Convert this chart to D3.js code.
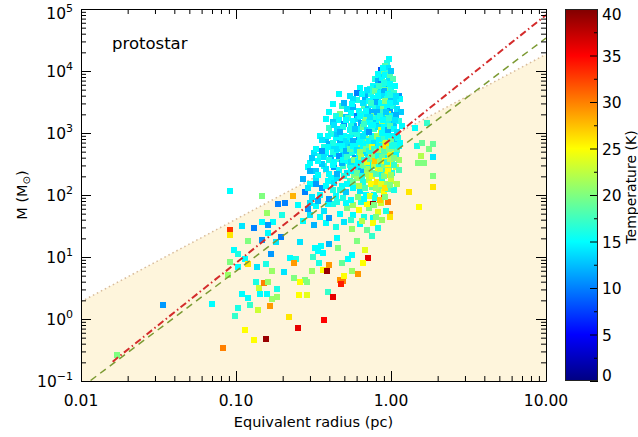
<!DOCTYPE html>
<html>
<head>
<meta charset="utf-8">
<script src="https://cdn.jsdelivr.net/npm/d3@7"></script>
<style>
body { margin:0; background:#fff; }
svg { color:#000; }
text { font-family:"DejaVu Sans", sans-serif; fill:#000; }
</style>
</head>
<body>
<div id="chart"></div>
<script>

// axis ranges and tick labels
var radiusDomain = [0.01, 10];
var massDomain = [0.1, 1e5];
var tempDomain = [0, 40];
var xMajor = [0.01, 0.1, 1, 10];
var xTickLabels = ["0.01", "0.10", "1.00", "10.00"];
var yMajor = [0.1, 1, 10, 100, 1e3, 1e4, 1e5];
var yExponents = ["\u22121", "0", "1", "2", "3", "4", "5"];
var tempTicks = [0, 5, 10, 15, 20, 25, 30, 35, 40];
var tempMinor = [2.5, 7.5, 12.5, 17.5, 22.5, 27.5, 32.5, 37.5];

// colour table (jet) : temperature -> colour
var jetStops = [0, 5, 15, 25, 35, 40];
var jetColors = ["#000080", "#0000ff", "#00ffff", "#ffff00", "#ff0000", "#800000"];

// reference lines, [radius pc, mass Msun] end points
var dottedLine = [[0.01, 1.9], [10, 18600]];
var redLine = [[0.016, 0.205], [10, 80000]];
var greenLine = [[0.01, 0.078], [10, 34000]];

// clumps: [radius (pc), mass (Msun), temperature (K)]
var clumpsSparseLeft = [
  [0.017,0.26,20],[0.034,1.7,11],[0.07,1.75,15],[0.082,0.34,30],
  [0.092,117,15],[0.11,32,14],[0.13,29,10],[0.092,27,33],[0.092,23,26],[0.12,18,20],[0.097,13,15],
  [0.103,11,16],[0.114,9.3,15],[0.092,8.4,20],[0.103,7,15],[0.119,7.8,26],[0.089,5.2,21],
  [0.11,2.5,15],[0.12,2.2,15],[0.103,1.5,16],[0.123,1.7,17],[0.099,1.1,17],[0.114,0.67,25],[0.13,0.46,25],
  [0.147,97,20],[0.233,97,28],[0.187,72,10],[0.207,75,10],[0.158,52,21],[0.198,48,16],[0.173,37,15],
  [0.147,37,15],[0.16,33,11],[0.16,24,15],[0.147,19,11],[0.181,17.6,14],[0.196,21,10],[0.259,17.6,14],
  [0.168,11.3,11],[0.223,9.7,15],[0.244,9.3,16],[0.236,8,29],[0.137,7,14],[0.155,7.8,16],[0.171,6,21],
  [0.204,5.8,14],[0.236,4.6,20],[0.279,4.3,20],[0.288,3.9,20],[0.259,4,25],[0.135,4,16],[0.141,3.2,23],
  [0.152,3.8,30],[0.16,4,21],[0.184,3.1,16],[0.184,2.3,21],[0.171,2.1,21],[0.158,2.5,15],[0.143,2.5,15],
  [0.255,2.4,25],[0.287,2.4,24],[0.139,1.4,23],[0.166,1.6,29],[0.22,1.08,26],[0.251,0.72,36],[0.155,0.48,39]
];

var clumpsSparseMid = [
  [0.309,6,21],[0.364,6.2,25],[0.386,6,39],[0.398,7.5,29],[0.343,8,16],[0.314,10,17],[0.364,11.7,15],
  [0.338,12.6,15],[0.323,14,15],[0.354,15,15],[0.455,14,20],[0.528,9.3,15],[0.56,10.9,15],[0.483,8,19],
  [0.711,9.7,36],[0.659,8,25],[0.612,5.4,29],[0.469,4.3,29],[0.49,4.1,30],[0.476,3.7,34],[0.498,5,25],
  [0.56,6,21],[0.392,2.7,17],[0.422,2.3,36],[0.37,0.97,35]
];

var clumpsSparseRight = [
  [1.87,136,26],[1.31,113,26],[1.52,65,25],[0.98,50,29],[0.95,78,30],[0.9,100,33],[0.766,72,39],
  [1.71,1470,17],[1.43,1220,15],[1.47,625,16],[1.58,700,19],[1.76,560,20],[1.87,670,19],[1.56,430,22],
  [1.49,330,20],[1.63,330,20],[1.87,415,14],[1.87,205,20]
];

var clumpsBase = [
  [0.25,70,15],[0.29,60,11],[0.33,66,15],[0.37,55,14],[0.42,71,16],[0.47,50,15],[0.52,62,20],[0.57,48,15],
  [0.62,58,25],[0.67,45,16],[0.72,62,20],[0.77,42,15],[0.82,53,24],[0.87,40,21],[0.93,56,16],[0.98,44,26],
  [0.27,38,15],[0.32,33,12],[0.38,36,15],[0.44,30,16],[0.50,37,14],[0.56,28,21],[0.63,34,15],[0.70,27,19],
  [0.76,35,25],[0.83,29,16],[0.45,20,15],[0.60,18,20],[0.75,22,17],[0.40,16,12],[0.68,13,24],
  [0.30,75,14],[0.34,80,12],[0.39,72,15],[0.45,78,16],[0.51,75,15],[0.57,70,21],[0.64,76,16],[0.70,72,25],
  [0.78,70,20],[0.86,74,23],[0.35,45,15],[0.40,42,11],[0.55,40,17],[0.65,38,22],[0.80,45,20],[0.30,48,14]
];

var clumpsLow = [
  [0.29,280,15],[0.33,240,13],[0.37,290,16],[0.40,220,15],[0.43,280,11],[0.46,250,15],[0.49,290,17],
  [0.52,230,14],[0.55,280,15],[0.58,210,20],[0.61,270,15],[0.64,240,12],[0.67,290,16],[0.70,220,22],
  [0.73,270,15],[0.76,230,19],[0.79,290,16],[0.82,250,25],[0.85,220,15],[0.88,280,21],[0.91,240,17],
  [0.94,210,26],[0.97,270,20],[1.02,230,16],[1.07,280,23],[1.12,250,18],
  [0.27,180,12],[0.30,150,15],[0.33,190,14],[0.36,130,11],[0.39,170,15],[0.42,120,16],[0.45,185,14],
  [0.48,140,15],[0.51,110,13],[0.54,170,17],[0.57,130,15],[0.60,190,21],[0.63,115,14],[0.66,160,16],
  [0.69,100,15],[0.72,175,22],[0.75,135,19],[0.78,100,15],[0.81,165,26],[0.84,120,20],[0.87,180,16],
  [0.90,110,25],[0.93,150,21],[0.96,125,18],[1.00,170,23],[1.05,120,16],[1.10,150,22],
  [0.28,110,10],[0.31,92,14],[0.35,100,15],[0.40,86,11],[0.44,98,15],[0.49,90,16],[0.55,84,15],
  [0.61,94,20],[0.67,86,15],[0.73,95,24],[0.79,88,16],[0.85,84,27],[0.91,92,20],
  [0.30,240,12],[0.34,210,15],[0.38,260,14],[0.41,190,15],[0.45,220,12],[0.50,200,16],[0.55,240,15],
  [0.60,230,19],[0.65,200,16],[0.70,260,21],[0.75,200,24],[0.80,220,18],[0.85,260,22],[0.90,200,20],
  [0.95,240,25],[1.00,210,21],
  [0.29,130,14],[0.33,150,11],[0.38,140,15],[0.43,155,14],[0.47,120,16],[0.52,150,15],[0.57,160,19],
  [0.62,140,22],[0.68,130,18],[0.74,150,25],[0.80,130,21],[0.86,150,24],[0.92,130,26],[0.98,145,20]
];

var clumpsMid = [
  [0.35,900,15],[0.38,760,13],[0.41,950,16],[0.44,820,15],[0.47,700,12],[0.50,900,15],[0.53,780,17],
  [0.56,950,14],[0.59,680,15],[0.62,850,11],[0.65,720,16],[0.68,950,15],[0.71,800,20],[0.74,660,14],
  [0.77,900,15],[0.80,750,18],[0.83,620,15],[0.86,880,16],[0.89,720,22],[0.92,950,15],[0.95,800,14],
  [0.98,650,19],[1.02,880,15],[1.06,720,13],[1.11,820,16],[1.15,680,15],
  [0.37,600,16],[0.40,660,12],[0.43,560,14],[0.46,620,15],[0.49,540,16],[0.52,650,14],[0.55,600,13],
  [0.58,520,15],[0.61,640,15],[0.64,580,20],[0.67,540,14],[0.70,660,15],[0.73,600,17],[0.76,520,15],
  [0.79,640,12],[0.82,580,25],[0.85,530,15],[0.88,650,16],[0.91,600,19],[0.94,540,16],[0.97,640,14],
  [1.00,520,24],[1.04,580,20],[1.09,540,18],[1.13,620,15],
  [0.32,470,14],[0.35,420,16],[0.38,480,15],[0.41,400,12],[0.44,460,15],[0.47,380,17],[0.50,450,14],
  [0.53,360,15],[0.56,470,16],[0.59,400,11],[0.62,440,15],[0.65,350,18],[0.68,470,14],[0.71,380,15],
  [0.74,430,21],[0.77,340,15],[0.80,460,19],[0.83,380,14],[0.86,440,24],[0.89,350,16],[0.92,470,20],
  [0.95,390,15],[0.98,430,26],[1.02,340,18],[1.07,440,15],[1.12,370,21],
  [0.30,330,15],[0.36,320,13],[0.42,310,15],[0.48,330,12],[0.54,310,16],[0.60,320,15],[0.66,305,19],
  [0.72,325,15],[0.78,310,22],[0.84,320,16],[0.90,305,20],[0.96,320,25],[1.04,310,17],
  [0.36,780,14],[0.39,880,15],[0.42,690,16],[0.45,980,13],[0.48,820,15],[0.51,730,14],[0.54,860,15],
  [0.57,740,12],[0.60,950,16],[0.63,780,15],[0.66,880,14],[0.69,620,18],[0.72,730,15],[0.75,820,16],
  [0.78,700,14],[0.81,900,21],[0.84,770,15],[0.87,640,20],[0.90,830,17],[0.93,700,23],[0.96,900,15],
  [1.00,740,19],[1.04,650,16],[1.08,900,15],
  [0.33,560,15],[0.36,510,11],[0.39,590,15],[0.42,500,16],[0.45,560,14],[0.48,610,15],[0.51,520,12],
  [0.54,560,18],[0.57,610,15],[0.60,540,14],[0.63,500,21],[0.66,620,15],[0.69,560,19],[0.72,520,16],
  [0.75,600,24],[0.78,550,17],[0.81,500,20],[0.84,610,15],[0.87,560,22],[0.90,520,18],[0.93,610,26],
  [0.97,560,20],[1.02,620,16],
  [0.31,390,13],[0.34,360,15],[0.37,410,14],[0.40,370,16],[0.43,340,15],[0.46,420,11],[0.49,370,15],
  [0.52,410,17],[0.55,340,14],[0.58,370,20],[0.61,350,15],[0.64,410,22],[0.67,370,16],[0.70,340,24],
  [0.73,380,18],[0.76,410,20],[0.79,360,27],[0.82,420,16],[0.85,360,21],[0.88,410,19],[0.91,360,25],
  [0.94,340,17],[0.98,380,22],[1.05,400,20]
];

var clumpsUpper = [
  [0.40,2150,15],[0.48,2700,17],[0.52,2400,14],[0.57,2600,12],[0.62,2300,15],[0.67,2750,18],[0.71,2400,13],
  [0.75,2850,15],[0.79,2500,16],[0.84,2700,14],[0.89,2400,20],[0.94,2650,15],[0.99,2300,11],[1.03,2750,16],
  [1.10,2400,14],[1.16,2200,13],
  [0.47,2000,20],[0.55,2100,15],[0.60,1900,10],[0.65,2050,16],[0.70,1950,14],[0.74,2150,12],[0.78,1900,19],
  [0.82,2000,15],[0.87,2150,17],[0.91,1900,14],[0.96,2000,22],[1.02,1850,15],[1.08,1950,12],[0.44,1850,16],
  [0.51,1800,13],[0.99,1750,15],
  [0.38,1700,15],[0.42,1500,13],[0.46,1650,15],[0.50,1400,11],[0.53,1750,17],[0.57,1550,15],[0.61,1700,14],
  [0.64,1450,12],[0.68,1600,20],[0.72,1500,15],[0.76,1700,16],[0.80,1450,13],[0.84,1600,15],[0.88,1400,21],
  [0.92,1700,14],[0.96,1500,16],[1.01,1650,15],[1.05,1400,13],[1.12,1550,16],[1.18,1300,15],
  [0.40,1200,17],[0.45,1150,14],[0.49,1250,16],[0.54,1100,15],[0.58,1300,12],[0.62,1150,15],[0.66,1250,19],
  [0.70,1100,14],[0.74,1300,15],[0.78,1150,17],[0.82,1250,14],[0.86,1100,24],[0.90,1250,15],[0.95,1100,12],
  [0.99,1300,18],[1.04,1150,15],[1.10,1050,14],[0.56,1020,16],[0.72,1030,11],[0.88,1010,15],
  [0.43,1350,14],[0.47,1050,12],[0.51,1600,15],[0.55,1300,16],[0.59,1150,13],[0.63,1900,15],[0.67,1400,17],
  [0.69,2300,15],[0.73,1800,14],[0.77,1350,15],[0.81,2200,12],[0.85,1850,16],[0.89,1600,15],[0.93,2200,13],
  [0.97,1750,17],[1.06,1650,14]
];

var clumpsTop = [
  [0.97,15500,15],[0.94,13500,16],[0.92,12000,18],[0.96,11000,14],
  [0.86,10300,8],[0.89,9700,19],[0.94,9400,17],[0.91,8700,15],[0.98,8300,18],[0.84,8100,14],[1.00,9900,13],
  [0.79,7300,16],[0.83,7000,12],[0.88,7100,15],[0.93,6700,18],[0.97,6900,14],[1.03,7300,18],[0.86,6100,10],
  [0.95,5900,12],[0.76,5700,15],[0.81,5400,14],[0.89,5200,15],[1.00,5300,16],[1.06,5700,15],[0.73,5100,16],
  [0.92,5000,19],[0.63,5300,15],
  [0.46,4200,15],[0.60,4500,10],[0.54,4000,14],[0.70,4600,13],[0.74,4300,16],[0.79,4700,19],[0.85,4400,15],
  [0.90,4800,12],[0.96,4200,15],[1.04,4500,17],[1.12,4000,11],[0.68,3800,12],[0.77,3700,15],[0.83,3600,18],
  [0.88,3900,14],[0.94,3500,16],[1.00,3700,13],[0.60,3400,16],[0.72,3300,15],[0.80,3200,12],[0.86,3100,15],
  [0.92,3300,20],[1.08,3200,14],[1.14,3600,15],[0.66,3050,14],[0.42,2900,15],
  [0.89,11000,15],[0.82,8900,15],[0.90,6400,16],[0.99,6100,15],[0.70,5000,14],[0.84,5800,17],
  [0.65,4200,15],[0.57,3600,14],[0.82,4000,15],[0.99,4100,16],[1.07,3900,14],[0.50,3100,12],[0.56,2900,15],
  [0.74,3000,17],[0.98,3000,15]
];

function createClumpPlot(){

    var margin = { left:81, right:92, top:9, bottom:56 };
    var width = 638 - margin.left - margin.right,
        height = 437 - margin.top - margin.bottom;

    var svg = d3.select("#chart")
        .append("svg")
            .attr("width", 638)
            .attr("height", 437);

    var g = svg.append("g")
        .attr("transform", "translate(" + margin.left + "," + margin.top + ")");

    var xScale = d3.scaleLog().domain(radiusDomain).range([0, width]);
    var yScale = d3.scaleLog().domain(massDomain).range([height, 0]);
    var tempColor = d3.scaleLinear().domain(jetStops).range(jetColors);

    var defs = svg.append("defs");
    defs.append("clipPath")
        .attr("id", "plot-clip")
        .append("rect")
            .attr("width", width)
            .attr("height", height);

    // shaded region below the dotted threshold
    var area = d3.area()
        .x(function(d){ return xScale(d[0]); })
        .y0(height)
        .y1(function(d){ return yScale(d[1]); });

    g.append("path")
        .datum(dottedLine)
        .attr("d", area)
        .attr("fill", "#fef5dc")
        .attr("clip-path", "url(#plot-clip)");

    var line = d3.line()
        .x(function(d){ return xScale(d[0]); })
        .y(function(d){ return yScale(d[1]); });

    g.append("path")
        .datum(dottedLine)
        .attr("d", line)
        .attr("fill", "none")
        .attr("stroke", "#d8bb9a")
        .attr("stroke-width", 1.5)
        .attr("stroke-dasharray", "1.5,3")
        .attr("clip-path", "url(#plot-clip)");

    // clumps
    var clumps = clumpsSparseLeft.concat(clumpsSparseMid, clumpsSparseRight,
        clumpsBase, clumpsLow, clumpsMid, clumpsUpper, clumpsTop);

    var size = 6;
    g.append("g")
        .attr("clip-path", "url(#plot-clip)")
        .selectAll("rect")
        .data(clumps)
        .enter()
        .append("rect")
            .attr("x", function(d){ return Math.round(xScale(d[0]) - size / 2); })
            .attr("y", function(d){ return Math.round(yScale(d[1]) - size / 2); })
            .attr("width", size)
            .attr("height", size)
            .attr("shape-rendering", "crispEdges")
            .style("fill", function(d){ return tempColor(d[2]); });

    g.append("path")
        .datum(greenLine)
        .attr("d", line)
        .attr("fill", "none")
        .attr("stroke", "#7c9a33")
        .attr("stroke-width", 1.5)
        .attr("stroke-dasharray", "7,5")
        .attr("clip-path", "url(#plot-clip)");

    g.append("path")
        .datum(redLine)
        .attr("d", line)
        .attr("fill", "none")
        .attr("stroke", "#d42b2b")
        .attr("stroke-width", 2)
        .attr("stroke-dasharray", "7,3,1.5,3")
        .attr("clip-path", "url(#plot-clip)");

    // axes: minor ticks then major ticks, ticks pointing inward
    var isMajor = function(d){ var l = Math.log10(d); return Math.abs(l - Math.round(l)) < 1e-6; };
    var xMinor = xScale.ticks().filter(function(d){ return !isMajor(d); });
    var yMinor = yScale.ticks().filter(function(d){ return !isMajor(d); });

    var axes = [
        { fn: d3.axisBottom(xScale), pos: "translate(0," + height + ")", minor: xMinor, major: xMajor },
        { fn: d3.axisTop(xScale), pos: "translate(0,0)", minor: xMinor, major: xMajor },
        { fn: d3.axisLeft(yScale), pos: "translate(0,0)", minor: yMinor, major: yMajor },
        { fn: d3.axisRight(yScale), pos: "translate(" + width + ",0)", minor: yMinor, major: yMajor }
    ];

    axes.forEach(function(a){
        var minorG = g.append("g")
            .attr("transform", a.pos)
            .call(a.fn.tickValues(a.minor).tickSize(-5).tickSizeOuter(0).tickFormat(""));
        minorG.select(".domain").remove();
        g.append("g")
            .attr("transform", a.pos)
            .call(a.fn.tickValues(a.major).tickSize(-10).tickSizeOuter(0).tickFormat(""));
    });

    // x tick labels
    g.selectAll(".xlabel")
        .data(xMajor)
        .enter()
        .append("text")
            .attr("class", "xlabel")
            .attr("x", function(d){ return xScale(d); })
            .attr("y", height + 25)
            .attr("text-anchor", "middle")
            .attr("font-size", "15.5px")
            .text(function(d, i){ return xTickLabels[i]; });

    // y tick labels, 10^n (kept inside the figure at the top)
    var yLabels = g.selectAll(".ylabel")
        .data(yMajor)
        .enter()
        .append("text")
            .attr("class", "ylabel")
            .attr("x", -8)
            .attr("y", function(d){ return Math.max(yScale(d) + 6, 10); })
            .attr("text-anchor", "end")
            .attr("font-size", "15.5px");
    yLabels.append("tspan").text("10");
    yLabels.append("tspan")
        .attr("dy", -7)
        .attr("font-size", "11px")
        .text(function(d, i){ return yExponents[i]; });

    g.append("text")
        .attr("x", width / 2)
        .attr("y", height + 46)
        .attr("text-anchor", "middle")
        .attr("font-size", "14.5px")
        .text("Equivalent radius (pc)");

    var yTitle = svg.append("text")
        .attr("transform", "translate(27," + (margin.top + height / 2) + ") rotate(-90)")
        .attr("text-anchor", "middle")
        .attr("font-size", "14.5px");
    yTitle.append("tspan").text("M (M");
    yTitle.append("tspan").attr("font-size", "10px").attr("dy", 3).text("\u2299");
    yTitle.append("tspan").attr("dy", -3).text(")");

    g.append("text")
        .attr("x", 31)
        .attr("y", 40)
        .attr("font-size", "16.5px")
        .text("protostar");

    // colour bar
    var cbar = svg.append("g").attr("transform", "translate(565," + margin.top + ")");
    var cbWidth = 33;
    var cScale = d3.scaleLinear().domain(tempDomain).range([height, 0]);

    var grad = defs.append("linearGradient")
        .attr("id", "jet")
        .attr("x1", 0).attr("y1", 1)
        .attr("x2", 0).attr("y2", 0);
    grad.selectAll("stop")
        .data(jetStops)
        .enter()
        .append("stop")
            .attr("offset", function(d){ return (d - tempDomain[0]) / (tempDomain[1] - tempDomain[0]); })
            .attr("stop-color", function(d){ return tempColor(d); });

    cbar.append("rect")
        .attr("width", cbWidth)
        .attr("height", height)
        .attr("fill", "url(#jet)");

    cbar.append("g")
        .attr("transform", "translate(" + cbWidth + ",0)")
        .call(d3.axisRight(cScale).tickValues(tempMinor).tickSize(-4).tickSizeOuter(0).tickFormat(""))
        .select(".domain").remove();

    var cAxis = cbar.append("g")
        .attr("transform", "translate(" + cbWidth + ",0)")
        .call(d3.axisRight(cScale).tickValues(tempTicks).tickSize(-8).tickSizeOuter(0).tickPadding(4));
    cAxis.select(".domain").remove();
    // labels are placed relative to their tick; end labels kept inside the bar height
    cAxis.selectAll("text")
        .attr("font-size", "15.5px")
        .attr("font-family", "DejaVu Sans, sans-serif")
        .attr("dy", null)
        .attr("y", function(d){
            var base = Math.min(Math.max(cScale(d) + 5.5, 10), height - 1);
            return base - cScale(d);
        });

    cbar.append("rect")
        .attr("x", 0.5).attr("y", 0.5)
        .attr("width", cbWidth - 1)
        .attr("height", height - 1)
        .attr("fill", "none")
        .attr("stroke", "#222");

    svg.append("text")
        .attr("transform", "translate(636," + (margin.top + 178) + ") rotate(-90)")
        .attr("text-anchor", "middle")
        .attr("font-size", "14px")
        .text("Temperature (K)");
}

createClumpPlot();
</script>
</body>
</html>
